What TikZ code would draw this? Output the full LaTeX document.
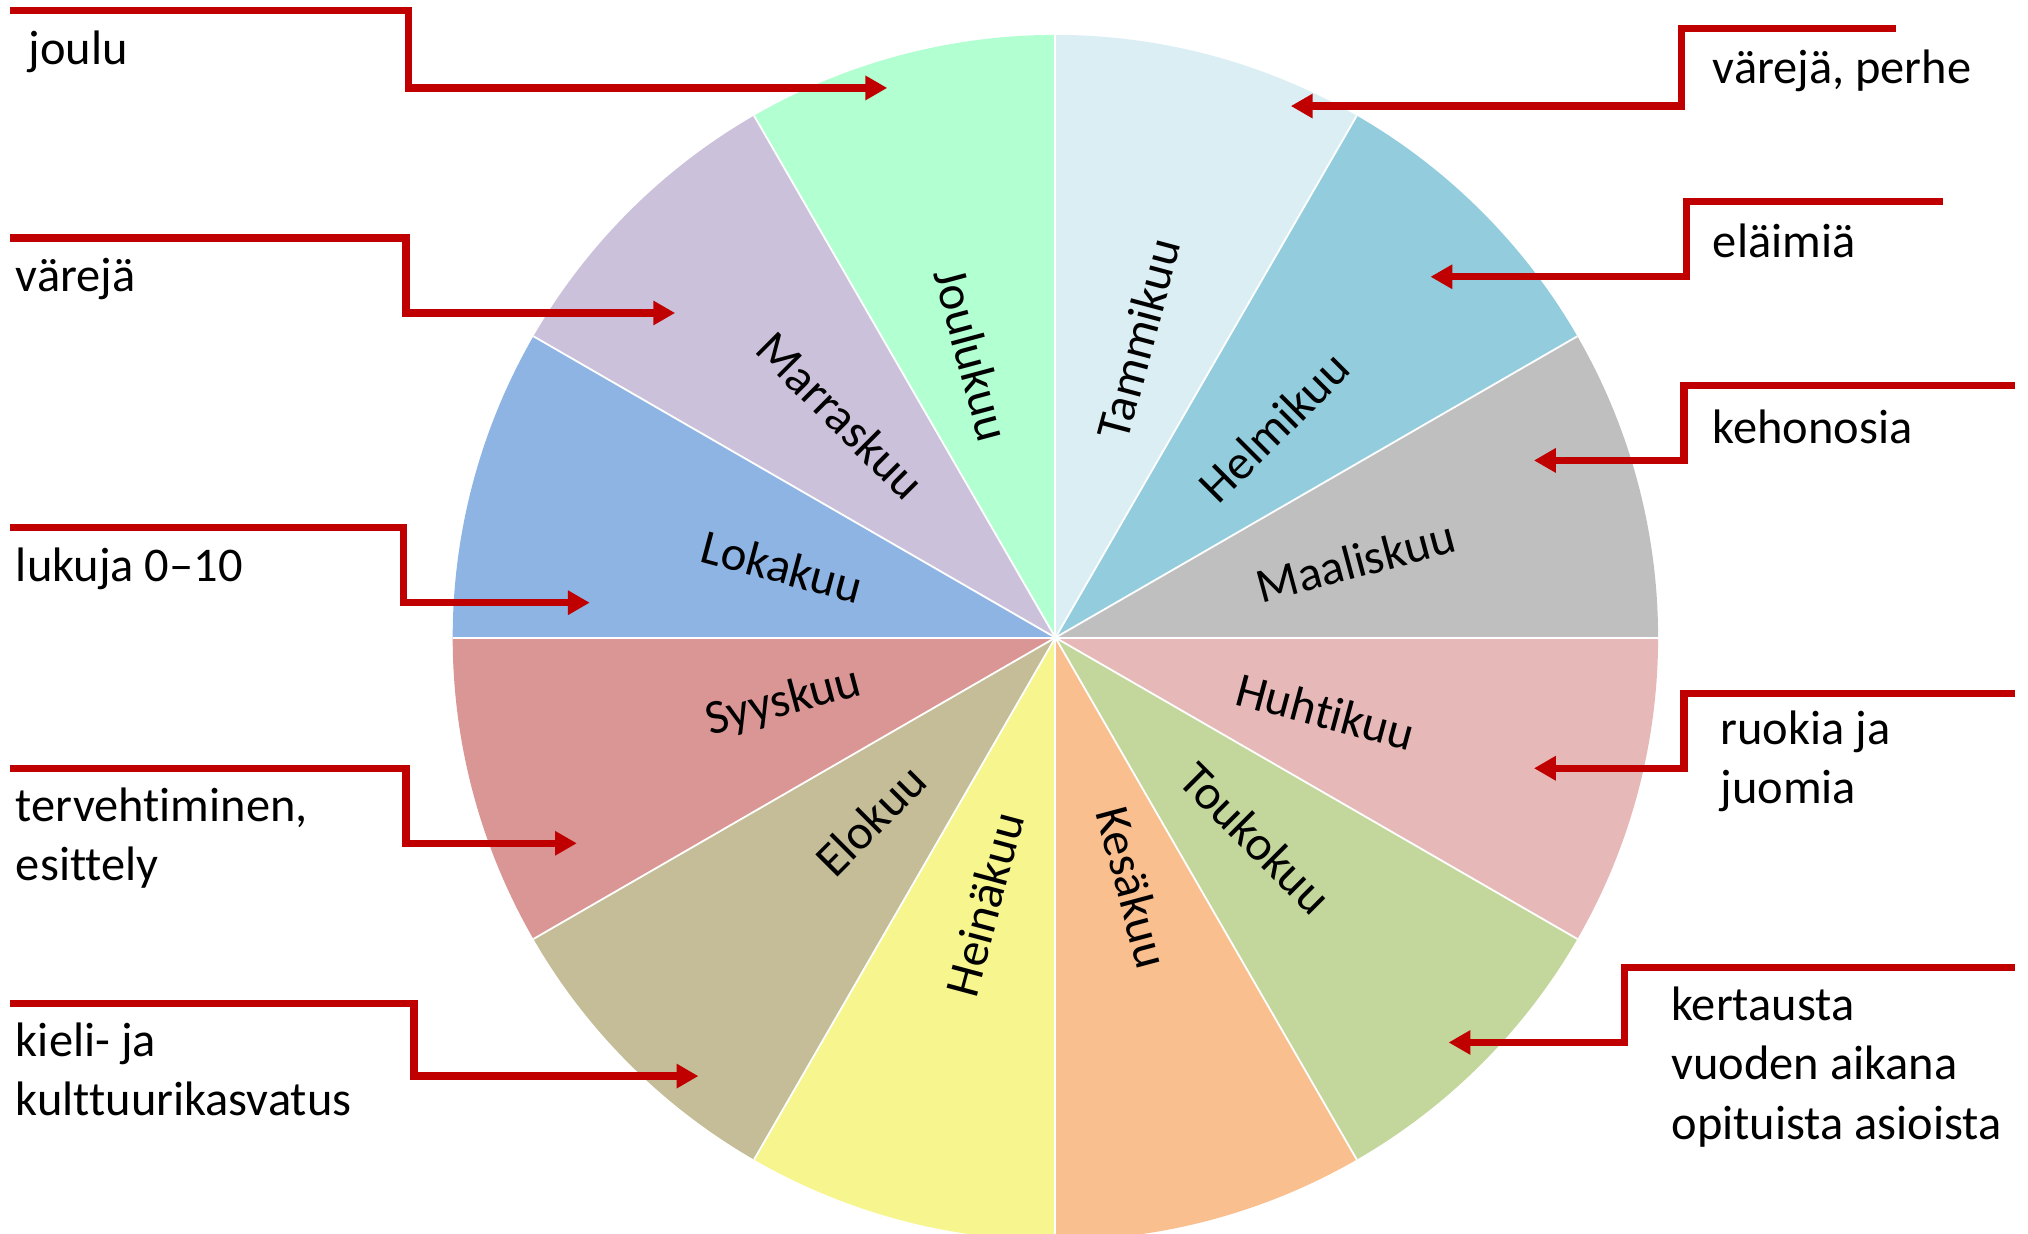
\documentclass[tikz,border=0pt]{standalone}
\usepackage{fontspec}
\setmainfont{Carlito}[Ligatures={NoCommon}]
\usetikzlibrary{arrows.meta}

\definecolor{tammi}{RGB}{218,238,243}
\definecolor{helmi}{RGB}{147,205,221}
\definecolor{maalis}{RGB}{191,191,191}
\definecolor{huhti}{RGB}{230,185,184}
\definecolor{touko}{RGB}{195,214,155}
\definecolor{kesa}{RGB}{250,191,143}
\definecolor{heina}{RGB}{246,245,142}
\definecolor{elo}{RGB}{196,189,151}
\definecolor{syys}{RGB}{217,150,148}
\definecolor{loka}{RGB}{142,180,227}
\definecolor{marras}{RGB}{204,193,218}
\definecolor{joulu}{RGB}{178,255,210}
\definecolor{calloutred}{RGB}{192,0,0}

\begin{document}
\begin{tikzpicture}[x=0.02cm,y=0.02cm,
	month/.style={font=\fontsize{21.5}{25}\selectfont, inner sep=0pt},
	topic/.style={font=\fontsize{21.3}{26}\selectfont, align=left, anchor=west, inner sep=0pt},
	callout/.style={draw=calloutred, line width=3.2pt, line join=miter, -{Triangle[length=9.6pt,width=10.2pt]}}]
	\useasboundingbox (0,0) rectangle (1568,954);
	\clip (0,0) rectangle (1568,954);
	\coordinate (c) at (816,461);
	% wedges, one per month
	\foreach \a/\col in {60/tammi,30/helmi,0/maalis,-30/huhti,-60/touko,-90/kesa,-120/heina,-150/elo,180/syys,150/loka,120/marras,90/joulu}
		\fill[\col] (c) -- ++(\a:466) arc[start angle=\a, delta angle=30, radius=466] -- cycle;
	\foreach \a in {0,30,...,330}
		\draw[white, line width=0.8pt] (c) -- ++(\a:466);
	% month labels
	\node[month, rotate=75] (tam) at (880,692) {Tammikuu};
	\node[month, rotate=45] (hel) at (985,624) {Helmikuu};
	\node[month, rotate=15] (maa) at (1048,520) {Maaliskuu};
	\node[month, rotate=-15] (huh) at (1025,404) {Huhtikuu};
	\node[month, rotate=-45] (tou) at (971,306) {Toukokuu};
	\node[month, rotate=-75] (kes) at (876,268) {Kesäkuu};
	\node[month, rotate=75] (hei) at (761,255) {Heinäkuu};
	\node[month, rotate=45] (elo) at (673,320) {Elokuu};
	\node[month, rotate=15] (syy) at (606,411) {Syyskuu};
	\node[month, rotate=-15] (lok) at (605,516) {Lokakuu};
	\node[month, rotate=-45] (mar) at (650,633) {Marraskuu};
	\node[month, rotate=-75] (jou) at (752,680) {Joulukuu};
	% topics on the left
	\node[topic] (joulu-t) at (22,914) {joulu};
	\node[topic] (varit-t) at (12,738) {värejä};
	\node[topic] (luvut-t) at (12,514) {lukuja 0–10};
	\node[topic] (terve-t) at (12,306) {tervehtiminen,\\esittely};
	\node[topic] (kieli-t) at (12,127) {kieli- ja\\kulttuurikasvatus};
	% topics on the right
	\node[topic] (perhe-t) at (1324,899) {värejä, perhe};
	\node[topic] (elain-t) at (1324,768) {eläimiä};
	\node[topic] (keho-t) at (1324,624) {kehonosia};
	\node[topic] (ruoka-t) at (1330,365) {ruokia ja\\juomia};
	\node[topic] (kert-t) at (1292,129) {kertausta\\vuoden aikana\\opituista asioista};
	% callout lines
	\coordinate (joulu-s) at (8,946);    \coordinate (joulu-k) at (316,886);  \coordinate (joulu-a) at (686,886);
	\coordinate (varit-s) at (8,770);    \coordinate (varit-k) at (314,712);  \coordinate (varit-a) at (522,712);
	\coordinate (luvut-s) at (8,546);    \coordinate (luvut-k) at (312,488);  \coordinate (luvut-a) at (456,488);
	\coordinate (terve-s) at (8,360);    \coordinate (terve-k) at (314,302);  \coordinate (terve-a) at (446,302);
	\coordinate (kieli-s) at (8,178);    \coordinate (kieli-k) at (320,122);  \coordinate (kieli-a) at (540,122);
	\coordinate (perhe-s) at (1466,932); \coordinate (perhe-k) at (1300,872); \coordinate (perhe-a) at (998,872);
	\coordinate (elain-s) at (1502,798); \coordinate (elain-k) at (1304,740); \coordinate (elain-a) at (1106,740);
	\coordinate (keho-s) at (1558,656);  \coordinate (keho-k) at (1302,598);  \coordinate (keho-a) at (1186,598);
	\coordinate (ruoka-s) at (1558,418); \coordinate (ruoka-k) at (1302,360); \coordinate (ruoka-a) at (1186,360);
	\coordinate (kert-s) at (1558,206);  \coordinate (kert-k) at (1256,148);  \coordinate (kert-a) at (1120,148);
	\draw[callout] (joulu-s) -| (joulu-k) -- (joulu-a);
	\draw[callout] (varit-s) -| (varit-k) -- (varit-a);
	\draw[callout] (luvut-s) -| (luvut-k) -- (luvut-a);
	\draw[callout] (terve-s) -| (terve-k) -- (terve-a);
	\draw[callout] (kieli-s) -| (kieli-k) -- (kieli-a);
	\draw[callout] (perhe-s) -| (perhe-k) -- (perhe-a);
	\draw[callout] (elain-s) -| (elain-k) -- (elain-a);
	\draw[callout] (keho-s) -| (keho-k) -- (keho-a);
	\draw[callout] (ruoka-s) -| (ruoka-k) -- (ruoka-a);
	\draw[callout] (kert-s) -| (kert-k) -- (kert-a);
\end{tikzpicture}
\end{document}
